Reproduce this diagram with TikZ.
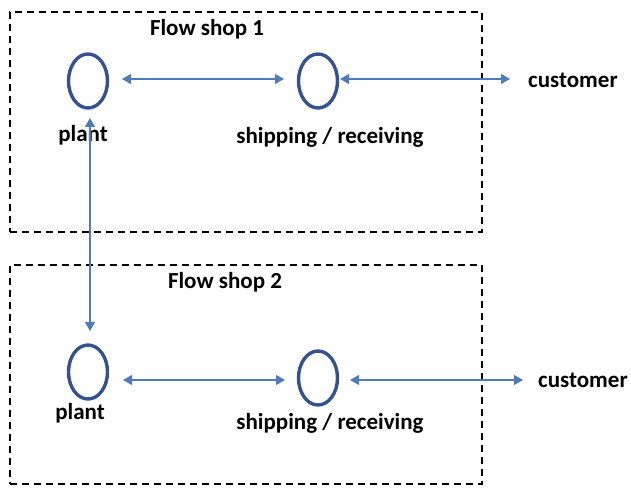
\documentclass[tikz,border=0pt]{standalone}
\usepackage{fontspec}
\setmainfont{Carlito}
\usetikzlibrary{arrows.meta,shapes.geometric}
\definecolor{ringblue}{HTML}{34528F}
\definecolor{arrowblue}{HTML}{4F7BB8}
\begin{document}
\begin{tikzpicture}[x=1pt,y=-1pt,
  shopbox/.style={draw=black,dash pattern=on 7pt off 5pt,line width=1.2pt},
  ring/.style={draw=ringblue,line width=3.4pt,ellipse,minimum width=39pt,minimum height=54pt,inner sep=0pt},
  lbl/.style={font=\bfseries\fontsize{23}{27}\selectfont,inner sep=0pt},
  flow/.style={draw=arrowblue,line width=1.2pt,{Triangle[length=9pt,width=10pt]}-{Triangle[length=9pt,width=10pt]}}]
\useasboundingbox (0,0) rectangle (631,489);
\node[shopbox,minimum width=472pt,minimum height=220pt,inner sep=0pt] (box1) at (246,122) {};
\node[shopbox,minimum width=472pt,minimum height=219pt,inner sep=0pt] (box2) at (246,374.5) {};
\node[lbl] (t1) at (207,29) {Flow shop 1};
\node[lbl] (t2) at (225,282) {Flow shop 2};
\node[ring] (p1) at (88,81) {};
\node[ring] (s1) at (318,81) {};
\node[ring] (p2) at (88,372) {};
\node[ring] (s2) at (318,378) {};
\node[lbl] (pl1) at (83,135) {plant};
\node[lbl] (sl1) at (330,137) {shipping / receiving};
\node[lbl] (pl2) at (80,413) {plant};
\node[lbl] (sl2) at (330,423) {shipping / receiving};
\node[lbl,anchor=west] (c1) at (528,80) {customer};
\node[lbl,anchor=west] (c2) at (538,380) {customer};
\coordinate (p1a) at (122,79);
\coordinate (s1a) at (284,79);
\coordinate (s1b) at (340,79);
\coordinate (c1a) at (510,79);
\coordinate (p2a) at (123,380);
\coordinate (s2a) at (285,380);
\coordinate (s2b) at (350,380);
\coordinate (c2a) at (523,380);
\coordinate (v1) at (90,118);
\coordinate (v2) at (90,331);
\draw[flow] (p1a) -- (s1a);
\draw[flow] (s1b) -- (c1a);
\draw[flow] (p2a) -- (s2a);
\draw[flow] (s2b) -- (c2a);
\draw[flow] (v1) -- (v2);
\end{tikzpicture}
\end{document}
